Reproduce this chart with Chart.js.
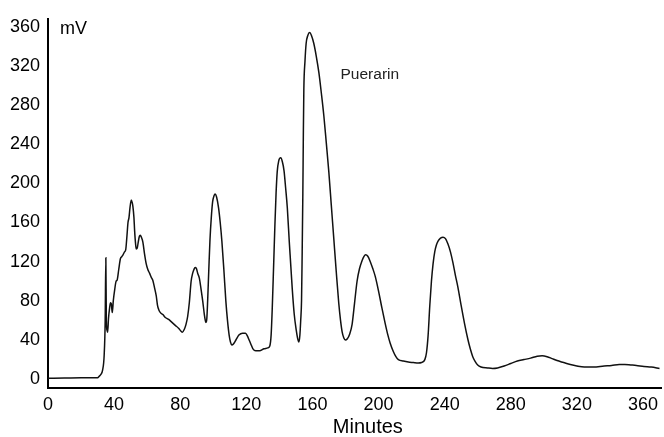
<!DOCTYPE html>
<html>
<head>
<meta charset="utf-8">
<script src="https://cdn.jsdelivr.net/npm/chart.js@4/dist/chart.umd.min.js"></script>
<style>
  html, body { margin: 0; padding: 0; background: #fff; overflow: hidden; }
  #wrap { width: 664px; height: 437px; position: relative; }
</style>
</head>
<body>
<div id="wrap"><canvas id="chromChart"></canvas></div>
<script>
// retention time (minutes) and detector signal (mV)
const minutes = [
  0, 10, 20, 25, 30, 31, 32, 33, 34, 34.6, 35, 35.3, 35.7, 36.1, 36.6, 37.3, 37.8, 38.3, 38.9, 39.5,
  40.4, 41.2, 41.8, 42.8, 43.8, 44.6, 45.4, 46.3, 47, 47.8, 48.4, 49, 49.6, 50.4, 51, 51.4, 52, 52.4, 53, 53.4,
  54, 54.6, 55.3, 55.8, 56.5, 57.4, 58.4, 59.4, 60.4, 61.5, 62.5, 63.4, 64.5, 65.5, 66.2, 67, 68, 69.5, 71, 73,
  75, 77, 79, 80.5, 81.3, 82.5, 83.5, 84.5, 85.5, 86.6, 87.5, 88.3, 89, 89.8, 90.6, 91.6, 92.6, 93.6, 94.6, 95.3,
  95.6, 96.1, 96.6, 97.3, 98, 98.8, 99.6, 100.4, 101.2, 102, 103.2, 104.2, 105.2, 106.4, 107.6, 108.6, 109.6, 110.4, 111.2, 112.2,
  113.7, 115.5, 117.7, 119.5, 120.7, 121.7, 122.7, 124, 125.7, 128, 130.7, 133, 134.2, 135, 135.7, 136.5, 137.3, 138, 138.7, 139.6,
  140.8, 141.8, 142.8, 143.8, 144.8, 146, 147.8, 149, 150.2, 151, 151.8, 152.4, 152.9, 153.4, 153.8, 154.2, 154.5, 154.8, 155.5, 156.2,
  157.2, 158.3, 159.4, 160.8, 162.3, 163.9, 165.4, 166.9, 168.4, 169.9, 171.4, 172.9, 174.4, 175.9, 177, 178, 179, 179.9, 181, 182.5,
  184, 185.5, 187, 188.5, 190, 191.2, 192.2, 193.5, 195, 196.5, 198, 200, 202, 204, 205.5, 207, 209, 210.5, 212,
  215, 218, 221, 224, 226, 228, 229, 230, 231, 232, 233, 234, 235, 236, 237.5, 239, 240.5, 242, 243.5, 245, 246.5, 248,
  250, 252, 254, 255.5, 257, 258.5, 260, 262, 266, 269, 272, 276, 280, 284, 288, 292, 296, 299, 302,
  305, 308, 312, 316, 320, 324.5, 330, 336.5, 341, 345.6, 349, 352.6, 356, 360.6, 365, 370
];
const signal = [
  1, 1.2, 1.5, 1.5, 1.5, 3, 5, 9, 25, 60, 124, 60, 50, 48, 62, 73, 78, 77, 68, 80,
  92, 100, 101, 112, 123, 125, 127, 130, 132, 147, 160, 165, 175, 183, 180, 176, 165, 152, 138, 133,
  134, 140, 146, 147, 145, 140, 128, 118, 112, 108, 104, 101, 93, 85, 76, 71, 68, 66, 63, 61,
  58, 55, 52, 49, 48, 51, 56, 64, 78, 100, 108, 112, 114, 113, 108, 103, 92, 80, 66, 59,
  58, 62, 80, 112, 142, 165, 181, 187, 189, 186, 175, 160, 141, 112, 80, 60, 45, 38, 35, 36,
  40, 45, 47, 47, 44, 40, 36, 31, 29, 29, 31, 32, 34, 45, 73, 115, 158, 190, 212, 223,
  226, 222, 213, 195, 175, 140, 92, 66, 50, 42, 38, 45, 60, 80, 130, 190, 250, 296, 325, 343,
  351, 354, 351, 343, 330, 313, 292, 269, 241, 212, 178, 144, 110, 78, 60, 48, 42, 40, 41, 46,
  56, 78, 100, 113, 121, 125.5, 127, 125.5, 120, 113, 105, 90, 73, 57, 46, 37, 28, 23, 20,
  18.5, 17.5, 17, 16.5, 17, 20, 27, 45, 75, 100, 118, 130, 137, 141, 144, 145, 143.5, 138, 130, 119, 106, 94,
  75, 57, 41, 31, 23, 18, 14.5, 12.5, 11.5, 11, 11.5, 13.5, 16, 18.5, 20, 21.5, 23.5, 24, 23,
  21, 19, 17, 15, 13.5, 12.5, 12.5, 13.5, 14, 15, 15, 14.5, 14, 13, 12.5, 11
];

const xTicks = [0, 40, 80, 120, 160, 200, 240, 280, 320, 360];
const yTicks = [0, 40, 80, 120, 160, 200, 240, 280, 320, 360];
const xTitle = "Minutes";
const yUnit = "mV";
const peakLabel = { text: "Puerarin", x: 177, y: 311 };

const FONT = '"Liberation Sans", Arial, Helvetica, sans-serif';

const textPlugin = {
  id: "chromText",
  afterDraw(chart) {
    const { ctx, chartArea, scales } = chart;
    ctx.save();
    ctx.fillStyle = "#000";
    ctx.textBaseline = "middle";

    ctx.font = "18px " + FONT;
    ctx.textAlign = "left";
    ctx.fillText(yUnit, chartArea.left + 12, chartArea.top + 10);

    ctx.font = "20px " + FONT;
    ctx.textAlign = "center";
    ctx.fillText(xTitle, scales.x.getPixelForValue(193.5), chart.height - 10);

    ctx.font = "15.5px " + FONT;
    ctx.fillStyle = "#222";
    ctx.textAlign = "left";
    ctx.fillText(peakLabel.text, scales.x.getPixelForValue(peakLabel.x), scales.y.getPixelForValue(peakLabel.y));
    ctx.restore();
  }
};

new Chart(document.getElementById("chromChart"), {
  type: "line",
  data: {
    datasets: [{
      data: minutes.map((m, i) => ({ x: m, y: signal[i] })),
      borderColor: "#111",
      borderWidth: 1.5,
      pointRadius: 0,
      fill: false,
      cubicInterpolationMode: "monotone"
    }]
  },
  options: {
    responsive: true,
    maintainAspectRatio: false,
    animation: false,
    layout: { padding: { top: 15, right: 0, left: 0, bottom: 0 } },
    plugins: {
      legend: { display: false },
      tooltip: { enabled: false }
    },
    scales: {
      x: {
        type: "linear",
        min: 0,
        max: 371,
        grid: { display: false, drawTicks: false },
        border: { display: true, color: "#000", width: 2 },
        ticks: { color: "#000", font: { size: 18, family: FONT }, padding: 6, maxRotation: 0 },
        afterBuildTicks: scale => { scale.ticks = xTicks.map(v => ({ value: v })); },
        afterFit: scale => { scale.height = 49; }
      },
      y: {
        min: -9,
        max: 368,
        grid: { display: false, drawTicks: false },
        border: { display: true, color: "#000", width: 2 },
        ticks: { color: "#000", font: { size: 18, family: FONT }, padding: 8 },
        afterBuildTicks: scale => { scale.ticks = yTicks.map(v => ({ value: v })); },
        afterFit: scale => { scale.width = 48; }
      }
    }
  },
  plugins: [textPlugin]
});
</script>
</body>
</html>
